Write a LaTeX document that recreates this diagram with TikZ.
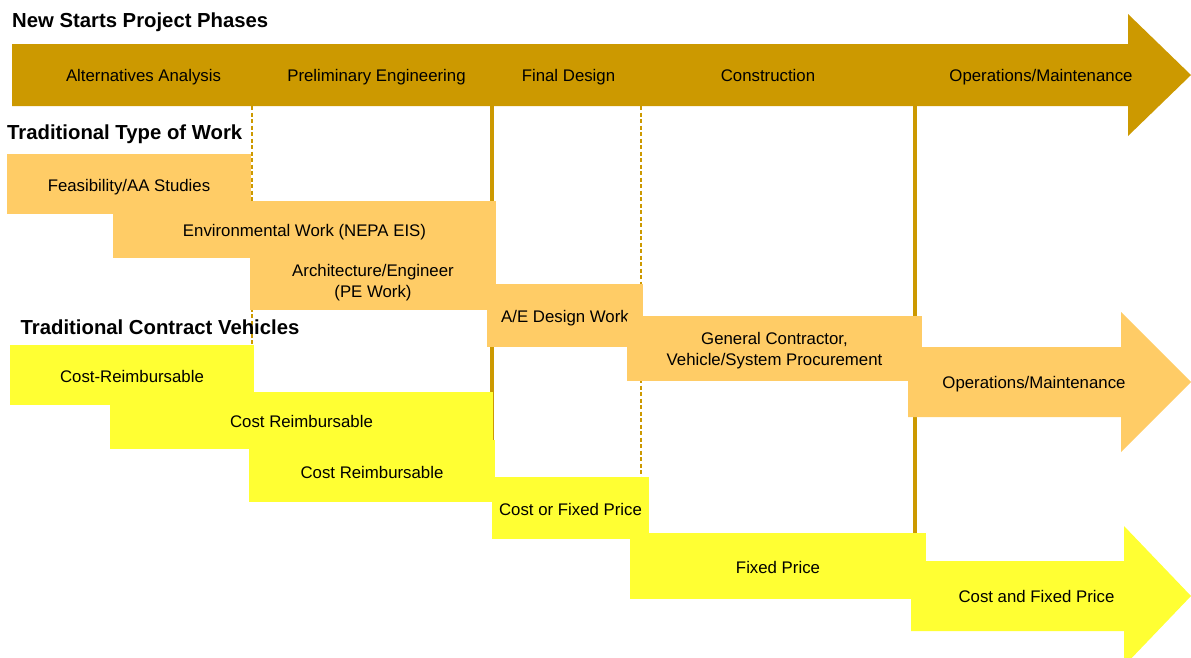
\documentclass[tikz,border=0pt]{standalone}
\usepackage{fontspec}
\setmainfont{Liberation Sans}
\definecolor{phase}{HTML}{CC9900}
\definecolor{work}{HTML}{FFCC66}
\definecolor{vehicle}{HTML}{FFFF33}
\newcommand\lblfont{\fontsize{16.8}{20.5}\selectfont}
\newcommand\ttlfont{\fontsize{20.3}{24}\selectfont\bfseries}
\begin{document}
\begin{tikzpicture}[x=1pt,y=-1pt,
  lbl/.style={font=\lblfont, text=black, inner sep=0pt, align=center,
    text height=12pt, text depth=0pt},
  twoline/.style={font=\lblfont, text=black, inner sep=0pt, align=center},
  ttl/.style={font=\ttlfont, text=black, inner sep=0pt, anchor=base west},
  cell/.style={draw=none, inner sep=0pt, outer sep=0pt, font=\lblfont,
    text=black, align=center},
  oneline/.style={text height=14pt, text depth=0pt},
  workbox/.style={cell, fill=work},
  vehbox/.style={cell, fill=vehicle},
  phaseline/.style={draw=phase, line width=3.5pt},
  phasedash/.style={draw=phase, line width=1.8pt, dash pattern=on 4pt off 2.5pt}
]
\useasboundingbox (0,0) rectangle (1191,657);
\clip (0,0) rectangle (1191,657);

% phase boundaries (drawn first, boxes sit on top of them)
\coordinate (aa-top) at (252,106);   \coordinate (aa-bot) at (252,345);
\coordinate (pe-top) at (492,106);   \coordinate (pe-bot) at (492,500);
\coordinate (fd-top) at (641,106);   \coordinate (fd-bot) at (641,478);
\coordinate (co-top) at (915,106);   \coordinate (co-bot) at (915,534);
\draw[phasedash] (aa-top) -- (aa-bot);
\draw[phaseline] (pe-top) -- (pe-bot);
\draw[phasedash] (fd-top) -- (fd-bot);
\draw[phaseline] (co-top) -- (co-bot);

% project phases arrow
\fill[phase] (12,44) -- (1128,44) -- (1128,14) -- (1191,75) -- (1128,136)
  -- (1128,106) -- (12,106) -- cycle;
\node[lbl] (ph-aa) at (143.5,75) {Alternatives Analysis};
\node[lbl] (ph-pe) at (376.5,75) {Preliminary Engineering};
\node[lbl] (ph-fd) at (568.5,75) {Final Design};
\node[lbl] (ph-co) at (768,75) {Construction};
\node[lbl] (ph-om) at (1041,75) {Operations/Maintenance};

% section titles
\node[ttl] (t-phases) at (12,27.5) {New Starts Project Phases};
\node[ttl] (t-work) at (7,139.5) {Traditional Type of Work};
\node[ttl] (t-veh) at (20.5,334) {Traditional Contract Vehicles};

% traditional type of work
\node[workbox, oneline, minimum width=244pt, minimum height=60pt] (feas)
  at (129,184) {Feasibility/AA Studies};
\node[workbox, minimum width=246pt, minimum height=58pt] (arch)
  at (373,281) {};
\node[twoline] (arch-text) at ([yshift=-1.5pt]arch.center)
  {Architecture/Engineer\\(PE Work)};
\node[workbox, oneline, minimum width=383pt, minimum height=57pt] (env)
  at (304.5,229.5) {Environmental Work (NEPA EIS)};
\node[workbox, oneline, minimum width=156pt, minimum height=63pt] (ae)
  at (565,315.5) {A/E Design Work};
\node[workbox, minimum width=295pt, minimum height=65pt] (gc)
  at (774.5,348.5) {};
\node[twoline] (gc-text) at ([yshift=-2pt]gc.center)
  {General Contractor,\\Vehicle/System Procurement};
\fill[work] (908,347) -- (1121,347) -- (1121,312) -- (1191,382) -- (1121,452)
  -- (1121,417) -- (908,417) -- cycle;
\node[lbl] (om-work) at (1034,382) {Operations/Maintenance};

% traditional contract vehicles
\node[vehbox, oneline, minimum width=244pt, minimum height=60pt] (cr1)
  at (132,375) {Cost-Reimbursable};
\node[vehbox, oneline, minimum width=246pt, minimum height=62pt] (cr3)
  at (372,471) {Cost Reimbursable};
\node[vehbox, oneline, minimum width=383pt, minimum height=57pt] (cr2)
  at (301.5,420.5) {Cost Reimbursable};
\node[vehbox, oneline, minimum width=157pt, minimum height=62pt] (cfp)
  at (570.5,508) {Cost or Fixed Price};
\node[vehbox, oneline, minimum width=296pt, minimum height=66pt] (fp)
  at (778,566) {Fixed Price};
\fill[vehicle] (911,561) -- (1124,561) -- (1124,526) -- (1191,596) -- (1124,666)
  -- (1124,631) -- (911,631) -- cycle;
\node[lbl] (om-veh) at (1036.5,596) {Cost and Fixed Price};
\end{tikzpicture}
\end{document}
